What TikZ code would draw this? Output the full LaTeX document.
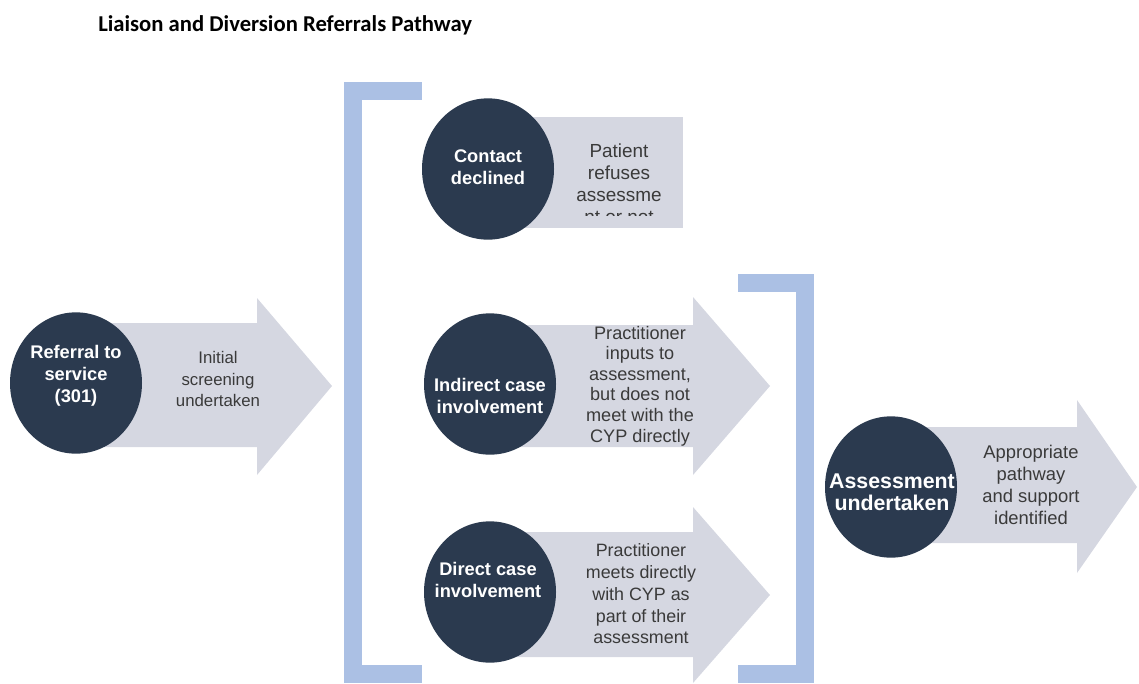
\documentclass[tikz,border=0pt]{standalone}
\usepackage{fontspec}
\setmainfont{Liberation Sans}
\newfontfamily\titlefont{Carlito}
\usetikzlibrary{shapes.geometric}

\definecolor{navy}{HTML}{2B3A4F}
\definecolor{arrowgrey}{HTML}{D5D7E1}
\definecolor{bracketblue}{HTML}{ABC0E4}
\definecolor{textgrey}{HTML}{3A3A3A}

\tikzset{
  stage/.style={ellipse, fill=navy, minimum width=99pt, minimum height=106pt, inner sep=0pt},
  stagetext/.style={text=white, font=\fontsize{13.7}{16.4}\selectfont\bfseries, align=center, inner sep=0.75pt},
  flowtext/.style={text=textgrey, font=\fontsize{14}{15.4}\selectfont, align=center, inner sep=0.75pt},
}

\begin{document}
\begin{tikzpicture}[x=0.75pt,y=0.75pt,yscale=-1,xscale=1]
    \useasboundingbox (0,0) rectangle (1139,683);
    % Title
    \draw (97,25) node [anchor=west][inner sep=0.75pt] (title) {\titlefont\bfseries\fontsize{17}{19}\selectfont Liaison and Diversion Referrals Pathway};

    %Shape: Brackets
    \fill[bracketblue] (344,82) rectangle (422,100);
    \fill[bracketblue] (344,82) rectangle (362,683);
    \fill[bracketblue] (344,665) rectangle (422,683);
    \fill[bracketblue] (738,274) rectangle (814,292);
    \fill[bracketblue] (796,274) rectangle (814,683);
    \fill[bracketblue] (738,665) rectangle (814,683);

    %Shape: Block arrows
    \fill[arrowgrey] (90,323) -- (257,323) -- (257,298) -- (332,386) -- (257,475) -- (257,447) -- (90,447) -- cycle;
    \fill[arrowgrey] (500,325) -- (693,325) -- (693,297) -- (770,386) -- (693,475) -- (693,447) -- (500,447) -- cycle;
    \fill[arrowgrey] (500,532) -- (693,532) -- (693,507) -- (770,595) -- (693,683) -- (693,657) -- (500,657) -- cycle;
    \fill[arrowgrey] (900,427) -- (1077,427) -- (1077,400) -- (1137,487) -- (1077,573) -- (1077,543) -- (900,543) -- cycle;
    %Shape: Rectangle
    \fill[arrowgrey] (500,117) rectangle (683,228);

    %Shape: Circles
    \node [stage] (referral) at (76,383) {};
    \node [stage] (declined) at (488,169) {};
    \node [stage] (indirect) at (490,384) {};
    \node [stage] (direct) at (490,592) {};
    \node [stage] (assessment) at (891,487) {};

    % Text Node
    \draw (76,376) node [stagetext] (referraltext) {Referral to\\service\\(301)};
    % Text Node
    \draw (488,167) node [stagetext] (declinedtext) {Contact\\declined};
    % Text Node
    \draw (490,396) node [stagetext] (indirecttext) {Indirect case\\involvement};
    % Text Node
    \draw (488,580) node [stagetext] (directtext) {Direct case\\involvement};
    % Text Node
    \draw (892,492) node [stagetext, font=\fontsize{16}{16.3}\selectfont\bfseries] (assessmenttext) {Assessment\\undertaken};

    % Text Node
    \draw (218,379) node [flowtext, font=\fontsize{12.6}{15.8}\selectfont] (screening) {Initial\\screening\\undertaken};
    % Text Node
    \begin{scope}
      \clip (500,117) rectangle (683,215);
      \draw (619,143) node [flowtext, anchor=north, font=\fontsize{14.2}{16.5}\selectfont] (refuses) {Patient\\refuses\\assessme\\nt or not};
    \end{scope}
    % Text Node
    \draw (640,386) node [flowtext, font=\fontsize{13.6}{15.4}\selectfont] (inputs) {Practitioner\\inputs to\\assessment,\\but does not\\meet with the\\CYP directly};
    % Text Node
    \draw (641,594) node [flowtext, font=\fontsize{13.4}{16.3}\selectfont] (meets) {Practitioner\\meets directly\\with CYP as\\part of their\\assessment};
    % Text Node
    \draw (1031,485) node [flowtext, font=\fontsize{13.8}{16.5}\selectfont] (support) {Appropriate\\pathway\\and support\\identified};
\end{tikzpicture}
\end{document}
